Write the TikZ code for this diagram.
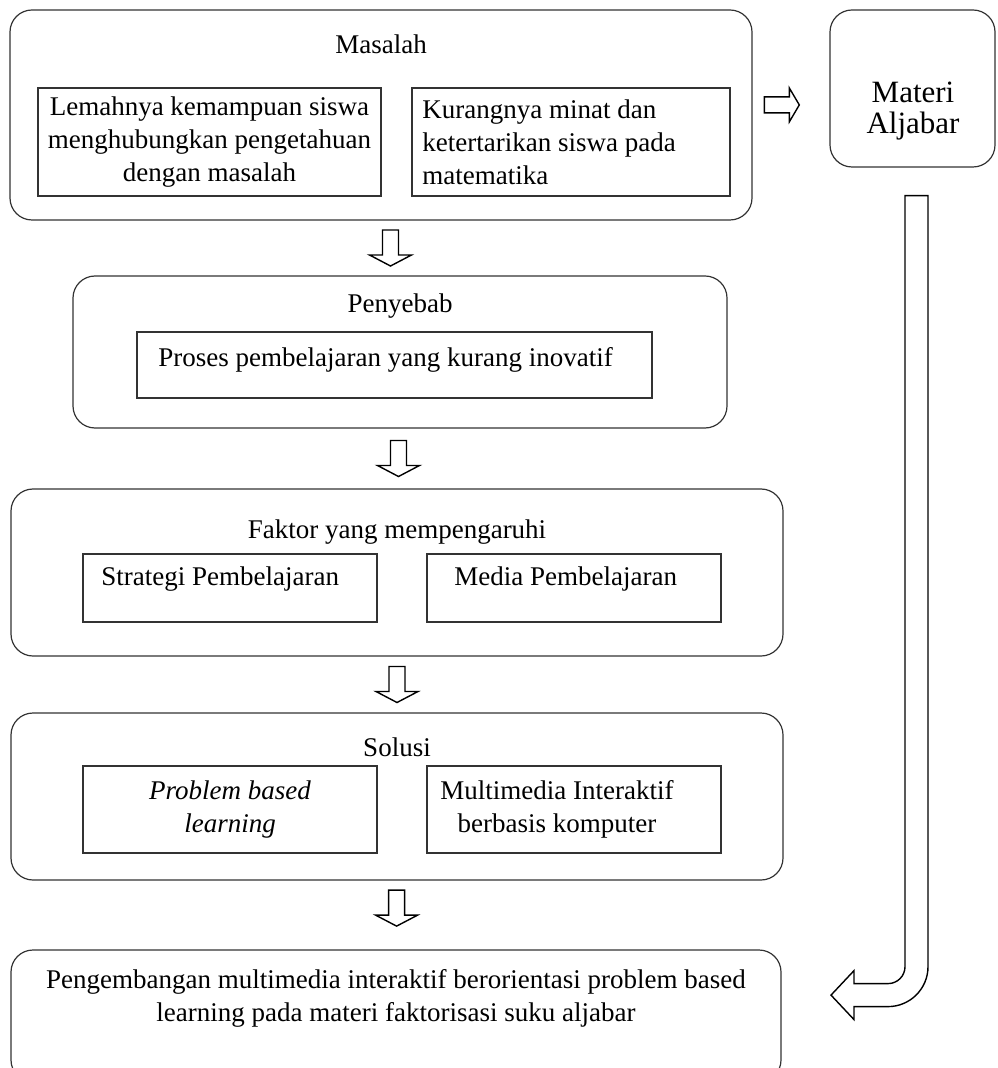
\documentclass[tikz,border=0pt]{standalone}
\usepackage{fontspec}
\setmainfont{Liberation Serif}
\usetikzlibrary{fit,calc}

\tikzset{
  outerbox/.style={draw=black!80, line width=0.6pt, rounded corners=11pt, inner sep=0pt},
  innerbox/.style={draw=black!80, line width=0.6pt, inner sep=0pt},
  txt/.style={inner sep=0pt, font=\fontsize{13.5pt}{16.5pt}\selectfont},
  hollow/.style={draw=black, line width=0.7pt, fill=white},
}

\begin{document}
\begin{tikzpicture}[x=0.5pt, y=-0.5pt]
  \useasboundingbox (0,0) rectangle (997,1068);

  % Masalah
  \node[outerbox, fit={(10,10) (752,220)}] (masalah) {};
  \node[txt] (tmasalah) at (381,44) {Masalah};
  \node[innerbox, fit={(38,88) (381,196)}] (lemah) {};
  \node[innerbox, fit={(412,88) (730,196)}] (minat) {};
  \node[txt, align=center] (tlemah) at (lemah.center) {Lemahnya kemampuan siswa\\menghubungkan pengetahuan\\dengan masalah};
  \node[txt, align=left, anchor=west] (tminat) at (422,142) {Kurangnya minat dan\\ketertarikan siswa pada\\matematika};

  % Materi
  \node[outerbox, fit={(830,10) (995,167)}] (materi) {};
  \node[txt, font=\fontsize{15.5pt}{15.5pt}\selectfont, align=center] (tmateri) at (913,111) {Materi\\Aljabar};

  % Penyebab
  \node[outerbox, fit={(73,276) (727,428)}] (penyebab) {};
  \node[txt] (tpenyebab) at (400,306) {Penyebab};
  \node[innerbox, fit={(137,332) (652,398)}] (proses) {};
  \node[txt, anchor=west] (tproses) at (158,360) {Proses pembelajaran yang kurang inovatif};

  % Faktor
  \node[outerbox, fit={(11,489) (783,656)}] (faktor) {};
  \node[txt] (tfaktor) at (397,532) {Faktor yang mempengaruhi};
  \node[innerbox, fit={(83,554) (377,622)}] (strategi) {};
  \node[innerbox, fit={(427,554) (721,622)}] (media) {};
  \node[txt, anchor=west] (tstrategi) at (101,579) {Strategi Pembelajaran};
  \node[txt, anchor=west] (tmedia) at (454,579) {Media Pembelajaran};

  % Solusi
  \node[outerbox, fit={(11,713) (783,880)}] (solusi) {};
  \node[txt] (tsolusi) at (397,747) {Solusi};
  \node[innerbox, fit={(83,766) (377,853)}] (pbl) {};
  \node[innerbox, fit={(427,766) (721,853)}] (mmi) {};
  \node[txt, font=\fontsize{13.5pt}{16.5pt}\selectfont\itshape, align=center] (tpbl) at (230,809) {Problem based\\learning};
  \node[txt, align=center] (tmmi) at (557,809) {Multimedia Interaktif\\berbasis komputer};

  % Pengembangan
  \node[outerbox, fit={(11,950) (781,1082)}] (hasil) {};
  \node[txt, align=center] (thasil) at (396,998) {Pengembangan multimedia interaktif berorientasi problem based\\learning pada materi faktorisasi suku aljabar};

  % arrows
  \coordinate (d1) at ($(masalah.south)!0.5!(penyebab.north)$);
  \coordinate (d2) at ($(penyebab.south)!0.5!(faktor.north)$);
  \coordinate (d3) at ($(faktor.south)!0.5!(solusi.north)$);
  \coordinate (d4) at ($(solusi.south)!0.4!(hasil.north)$);
  \coordinate (r1) at ($(masalah.east)!0.38!(materi.west)$);

  \draw[hollow] ($(d1)+(-8,-18)$) -- ++(16,0) -- ++(0,25) -- ++(13,0) -- ++(-21,11) -- ++(-21,-11) -- ++(13,0) -- cycle;
  \draw[hollow] ($(d2)+(-8,-18)$) -- ++(16,0) -- ++(0,25) -- ++(13,0) -- ++(-21,11) -- ++(-21,-11) -- ++(13,0) -- cycle;
  \draw[hollow] ($(d3)+(-8,-18)$) -- ++(16,0) -- ++(0,25) -- ++(13,0) -- ++(-21,11) -- ++(-21,-11) -- ++(13,0) -- cycle;
  \draw[hollow] ($(d4)+(-8,-18)$) -- ++(16,0) -- ++(0,25) -- ++(13,0) -- ++(-21,11) -- ++(-21,-11) -- ++(13,0) -- cycle;
  \draw[hollow] ($(r1)+(-17.5,-8)$) -- ++(25,0) -- ++(0,-9) -- ++(10,17) -- ++(-10,17) -- ++(0,-9) -- ++(-25,0) -- cycle;

  % bent arrow from Materi to the last box
  \draw[hollow] ($(materi.south)+(-7.5,28)$) -- ++(0,771)
    .. controls +(0,9.4) and +(9.4,0) .. ++(-17,17) -- ++(-34,0) -- ++(0,-13)
    -- ++(-23,24.5) -- ++(23,24.5) -- ++(0,-13) -- ++(34,0)
    .. controls +(22.1,0) and +(0,22.1) .. ++(40,-40) -- ++(0,-771) -- cycle;
\end{tikzpicture}
\end{document}
